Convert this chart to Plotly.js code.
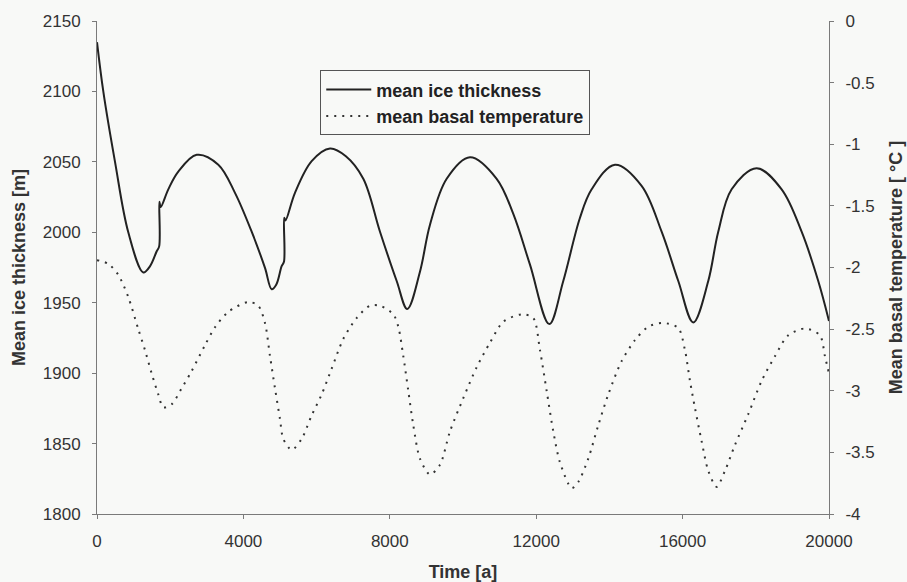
<!DOCTYPE html>
<html>
<head>
<meta charset="utf-8">
<script src="https://cdn.plot.ly/plotly-3.0.1.min.js"></script>
<style>html,body{margin:0;padding:0;background:#f8f9f7;}#chart{width:907px;height:582px;}</style>
</head>
<body>
<div id="chart"></div>
<script>
// Mean ice thickness [m] vs time [a]
const timeIce = [0, 172, 492, 855, 1265, 1450, 1631, 1698, 1705, 1740, 1948, 2221, 2724, 3315, 3770, 4226, 4590, 4772, 4900, 5045, 5108, 5115, 5150, 5409, 5865, 6366, 6800, 7276, 7732, 8188, 8478, 8824, 9098, 9554, 10191, 10920, 11374, 11830, 12357, 12740, 13192, 13515, 14152, 14880, 15427, 15882, 16291, 16701, 16974, 17340, 18023, 18706, 19252, 19706, 20000];
const iceThickness = [2135, 2100, 2050, 2000, 1971.5, 1976, 1986.5, 1990, 2021.7, 2017.9, 2030.5, 2043, 2055, 2048, 2028, 2000.4, 1974.7, 1959.6, 1963, 1976, 1979, 2010.4, 2008.4, 2028, 2050.5, 2059.5, 2054, 2038, 2000.4, 1965.4, 1945.5, 1972, 2005.4, 2038, 2053.3, 2038, 2013, 1977, 1934.8, 1965.4, 2010, 2030.5, 2048, 2033, 2000.4, 1965.4, 1936, 1965.4, 2000.4, 2030.5, 2045.5, 2030.5, 2000.4, 1965.4, 1937];

// Mean basal temperature [°C] vs time [a]
const timeTemp = [0, 309, 582, 855, 1128, 1311, 1494, 1675, 1811, 2040, 2313, 2587, 2951, 3224, 3588, 4134, 4407, 4590, 4727, 4863, 5000, 5090, 5319, 5592, 5865, 6138, 6400, 6729, 7094, 7458, 7732, 8096, 8232, 8369, 8505, 8642, 8824, 9098, 9371, 9644, 10008, 10373, 10737, 11101, 11603, 11920, 12103, 12285, 12467, 12649, 12969, 13150, 13423, 13696, 13969, 14334, 14698, 15062, 15472, 15882, 16064, 16201, 16338, 16520, 16702, 16929, 17157, 17430, 17794, 18159, 18523, 18887, 19343, 19752, 19889, 20000];
const basalTemp = [-1.94, -1.97, -2.06, -2.24, -2.5, -2.67, -2.86, -3.03, -3.135, -3.11, -2.98, -2.84, -2.63, -2.485, -2.36, -2.28, -2.31, -2.45, -2.72, -2.98, -3.23, -3.39, -3.48, -3.39, -3.2, -3.03, -2.83, -2.58, -2.41, -2.31, -2.31, -2.38, -2.48, -2.72, -3.0, -3.28, -3.55, -3.68, -3.6, -3.33, -3.06, -2.81, -2.61, -2.44, -2.38, -2.41, -2.67, -3.0, -3.33, -3.58, -3.79, -3.74, -3.55, -3.28, -3.03, -2.76, -2.59, -2.48, -2.45, -2.49, -2.67, -2.92, -3.14, -3.41, -3.65, -3.78, -3.65, -3.44, -3.19, -2.92, -2.72, -2.55, -2.495, -2.55, -2.72, -2.86];

const leftTicks = [1800, 1850, 1900, 1950, 2000, 2050, 2100, 2150];
const rightTicks = [-4, -3.5, -3, -2.5, -2, -1.5, -1, -0.5, 0];
const xTicks = [0, 4000, 8000, 12000, 16000, 20000];

const bg = '#f8f9f7';
const fontFam = '"Liberation Sans", Arial, sans-serif';
const txt = '#333333';

const traces = [
  {
    x: timeIce, y: iceThickness, type: 'scatter', mode: 'lines',
    name: '<b>mean ice thickness</b>',
    line: {color: '#222222', width: 2, shape: 'spline', smoothing: 1.0},
    yaxis: 'y'
  },
  {
    x: timeTemp, y: basalTemp, type: 'scatter', mode: 'lines',
    name: '<b>mean basal temperature</b>',
    line: {color: '#333333', width: 2, dash: '2px,6px', shape: 'spline', smoothing: 0.8},
    yaxis: 'y2'
  }
];

const axisCommon = {
  showgrid: false, zeroline: false, showline: true,
  linecolor: '#7a7a7a', linewidth: 1,
  ticks: 'outside', ticklen: 4, tickcolor: '#7a7a7a', tickwidth: 1,
  ticklabelstandoff: 8,
  tickfont: {family: fontFam, size: 17, color: txt}
};

const layout = {
  width: 907, height: 582,
  paper_bgcolor: bg, plot_bgcolor: bg,
  margin: {l: 97, r: 78, t: 21, b: 68},
  showlegend: true,
  legend: {
    x: 0.305, y: 0.9, xanchor: 'left', yanchor: 'top',
    bgcolor: bg, bordercolor: '#555555', borderwidth: 1,
    itemwidth: 45,
    font: {family: fontFam, size: 18, color: '#222222'},
    tracegroupgap: 0
  },
  xaxis: Object.assign({}, axisCommon, {
    range: [0, 20000], tickvals: xTicks, ticktext: xTicks.map(String),
    title: {text: '<b>Time [a]</b>', font: {family: fontFam, size: 18, color: txt}, standoff: 14}
  }),
  yaxis: Object.assign({}, axisCommon, {
    range: [1800, 2150], tickvals: leftTicks, ticktext: leftTicks.map(String),
    title: {text: '<b>Mean ice thickness [m]</b>', font: {family: fontFam, size: 18, color: txt}, standoff: 12}
  }),
  yaxis2: Object.assign({}, axisCommon, {
    range: [-4, 0], overlaying: 'y', side: 'right',
    tickvals: rightTicks, ticktext: rightTicks.map(String),
    title: {text: '<b>Mean basal temperature [ °C ]</b>', font: {family: fontFam, size: 18, color: txt}, standoff: 15}
  })
};

Plotly.newPlot('chart', traces, layout, {displayModeBar: false, staticPlot: true});
</script>
</body>
</html>
